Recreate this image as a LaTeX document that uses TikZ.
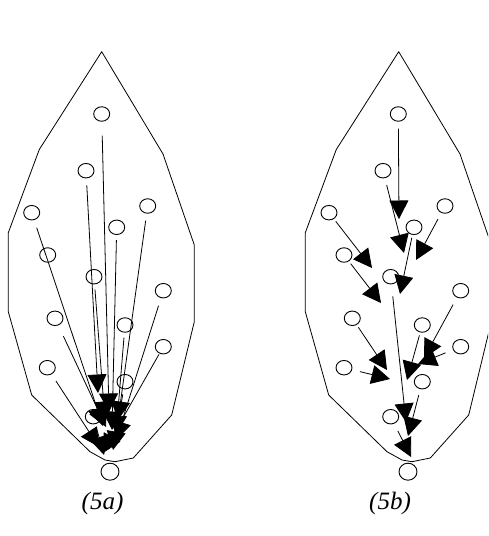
\documentclass[tikz,border=0pt]{standalone}
\usepackage{fontspec}
\setmainfont{Liberation Serif}
\usetikzlibrary{arrows.meta,shapes.geometric}
\begin{document}
\begin{tikzpicture}[x=1pt,y=-1pt,
  site/.style={draw,ellipse,line width=0.9pt,minimum width=16pt,minimum height=14.5pt,inner sep=0pt},
  sink/.style={site,minimum width=18pt,minimum height=17pt},
  flow/.style={line width=0.8pt,-{Triangle[length=18.5pt,width=19pt]}},
  leaf/.style={line width=0.8pt,line join=round},
  caption/.style={font=\fontsize{25}{30}\selectfont\itshape,anchor=base,inner sep=0pt}]
\useasboundingbox (0,0) rectangle (488,536);
\clip (0,0) rectangle (488,536);

% leaf outlines
\foreach \dx in {0,297}{
  \draw[leaf,shift={(\dx,0)}] (101.7,51.7) -- (39.3,149.5) -- (8.3,232.7) -- (8.3,311.7)
    -- (31.7,395) -- (90,451.7) -- (105,460) -- (115,461.7) -- (133.3,458)
    -- (171.7,415) -- (194.3,321.7) -- (194.3,245) -- (163,154) -- cycle;
}

% ---------- (5a): every site drains straight to the sink ----------
\node[site] (a1)  at (101.7,114) {};
\node[site] (a2)  at (86,170.7) {};
\node[site] (a3)  at (31.7,212.7) {};
\node[site] (a4)  at (147.7,206) {};
\node[site] (a5)  at (116.7,227.3) {};
\node[site] (a6)  at (47.7,255) {};
\node[site] (a7)  at (94,276.7) {};
\node[site] (a8)  at (163.3,290.7) {};
\node[site] (a9)  at (55,318.3) {};
\node[site] (a10) at (125,325) {};
\node[site] (a11) at (163.3,346.7) {};
\node[site] (a12) at (47.3,367.7) {};
\node[site] (a13) at (125,381.7) {};
\node[site] (a14) at (93.3,416.7) {};
\node[sink] (a0)  at (110,471.7) {};

\coordinate (ta1)  at (109,412);
\coordinate (ta2)  at (98,393);
\coordinate (ta3)  at (103,426);
\coordinate (ta4)  at (118,420);
\coordinate (ta5)  at (112,430);
\coordinate (ta7)  at (105,420);
\coordinate (ta8)  at (116,440);
\coordinate (ta9)  at (106,427);
\coordinate (ta10) at (116,434);
\coordinate (ta11) at (103,453);
\coordinate (ta12) at (99,447);
\coordinate (ta13) at (113,450);
\coordinate (ta14) at (104,455);

\draw[flow,shorten <=14pt] (a1)  -- (ta1);
\draw[flow,shorten <=7pt]  (a2)  -- (ta2);
\draw[flow,shorten <=8pt]  (a3)  -- (ta3);
\draw[flow,shorten <=7pt]  (a4)  -- (ta4);
\draw[flow,shorten <=5pt]  (a5)  -- (ta5);
\draw[flow,shorten <=5pt]  (a7)  -- (ta7);
\draw[flow,shorten <=8pt]  (a8)  -- (ta8);
\draw[flow,shorten <=12pt] (a9)  -- (ta9);
\draw[flow,shorten <=5pt]  (a10) -- (ta10);
\draw[flow,shorten <=1pt]  (a11) -- (ta11);
\draw[flow,shorten <=8pt]  (a12) -- (ta12);
\draw[flow,shorten <=5pt]  (a13) -- (ta13);
\draw[flow,shorten <=3pt]  (a14) -- (ta14);

% ---------- (5b): sites drain through their neighbours ----------
\node[site] (b1)  at (398.3,114) {};
\node[site] (b2)  at (383,170.7) {};
\node[site] (b3)  at (329,212.7) {};
\node[site] (b4)  at (445,206) {};
\node[site] (b5)  at (414,227.3) {};
\node[site] (b6)  at (344,255) {};
\node[site] (b7)  at (390.7,276.7) {};
\node[site] (b8)  at (460.7,290.7) {};
\node[site] (b9)  at (352.3,318.3) {};
\node[site] (b10) at (422.3,325) {};
\node[site] (b11) at (460.7,346.7) {};
\node[site] (b12) at (344,367.7) {};
\node[site] (b13) at (422.3,381.7) {};
\node[site] (b14) at (390.7,416.7) {};
\node[sink] (b0)  at (408,471.7) {};

\coordinate (tb1)  at (399,219);
\coordinate (tb2)  at (404,253);
\coordinate (tb3)  at (372,268);
\coordinate (tb4)  at (416,260);
\coordinate (tb5)  at (400,294);
\coordinate (tb6)  at (381,303);
\coordinate (tb7)  at (406,422);
\coordinate (tb8)  at (424,358);
\coordinate (tb9)  at (387,370);
\coordinate (tb10) at (407,380);
\coordinate (tb11) at (418,364);
\coordinate (tb12) at (390,379);
\coordinate (tb13) at (408,436);
\coordinate (tb14) at (411,457);

\draw[flow,shorten <=7pt]  (b1)  -- (tb1);
\draw[flow,shorten <=7pt]  (b2)  -- (tb2);
\draw[flow,shorten <=3pt]  (b3)  -- (tb3);
\draw[flow,shorten <=7pt]  (b4)  -- (tb4);
\draw[flow,shorten <=3pt]  (b5)  -- (tb5);
\draw[flow,shorten <=3pt]  (b6)  -- (tb6);
\draw[flow,shorten <=12pt] (b7)  -- (tb7);
\draw[flow,shorten <=8pt]  (b8)  -- (tb8);
\draw[flow,shorten <=3pt]  (b9)  -- (tb9);
\draw[flow,shorten <=3pt]  (b10) -- (tb10);
\draw[flow,shorten <=8pt]  (b11) -- (tb11);
\draw[flow,shorten <=8pt]  (b12) -- (tb12);
\draw[flow,shorten <=6pt]  (b13) -- (tb13);
\draw[flow,shorten <=8pt]  (b14) -- (tb14);

% captions
\node[caption] (capa) at (102.5,509) {(5a)};
\node[caption] (capb) at (390,509) {(5b)};
\end{tikzpicture}
\end{document}
